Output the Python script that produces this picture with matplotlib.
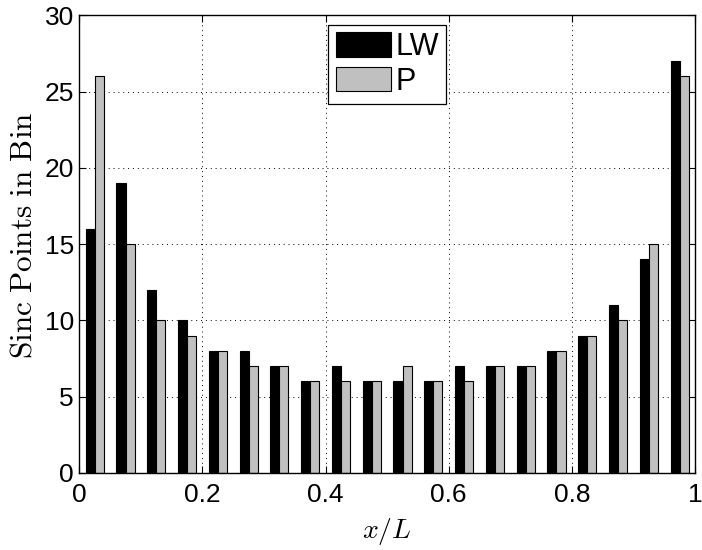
import matplotlib
matplotlib.use("Agg")
import matplotlib.pyplot as plt
import numpy as np

# bin counts of sinc points over x/L, 20 equal bins
bin_centers = np.arange(0.025, 1.0, 0.05)
lw_counts = [16, 19, 12, 10, 8, 8, 7, 6, 7, 6, 6, 6, 7, 7, 7, 8, 9, 11, 14, 27]
p_counts  = [26, 15, 10, 9, 8, 7, 7, 6, 6, 6, 7, 6, 6, 7, 7, 8, 9, 10, 15, 26]

plt.rcParams["font.family"] = ["Liberation Sans", "DejaVu Sans"]
plt.rcParams["mathtext.fontset"] = "cm"

fig = plt.figure(figsize=(7.02, 5.5), dpi=100)
ax = fig.add_axes([0.113, 0.14, 0.877, 0.832])

bw = 0.0147
ax.bar(bin_centers - bw / 2, lw_counts, width=bw, color="black",
       edgecolor="black", linewidth=0.8, label="LW", zorder=3)
ax.bar(bin_centers + bw / 2, p_counts, width=bw, color="#c0c0c0",
       edgecolor="black", linewidth=0.8, label="P", zorder=3)

ax.set_xlim(0, 1)
ax.set_ylim(0, 30)
ax.set_xticks([0, 0.2, 0.4, 0.6, 0.8, 1])
ax.set_xticklabels(["0", "0.2", "0.4", "0.6", "0.8", "1"])
ax.set_yticks(range(0, 31, 5))

ax.grid(True, linestyle=(0, (1, 4)), color="black", linewidth=0.7, zorder=0)
ax.tick_params(direction="in", top=True, right=True, length=5, labelsize=19)
ax.tick_params(axis="x", pad=7.5)
ax.tick_params(axis="y", pad=4)
for s in ax.spines.values():
    s.set_linewidth(1.0)
    s.set_zorder(4)

ax.set_xlabel(r"$x/L$", fontsize=20, labelpad=6)
ax.set_ylabel(r"$\mathrm{Sinc\ Points\ in\ Bin}$", fontsize=22.5)
ax.yaxis.set_label_coords(-0.067, 0.52)

leg = ax.legend(loc="upper center", bbox_to_anchor=(0.5, 1.0), fontsize=22,
                fancybox=False, edgecolor="black", framealpha=1,
                handlelength=1.8, handleheight=0.85, handletextpad=0.15,
                borderpad=0.25, labelspacing=0.15, borderaxespad=0.3)
leg.get_frame().set_linewidth(0.9)

fig.savefig("out.png", dpi=100)
